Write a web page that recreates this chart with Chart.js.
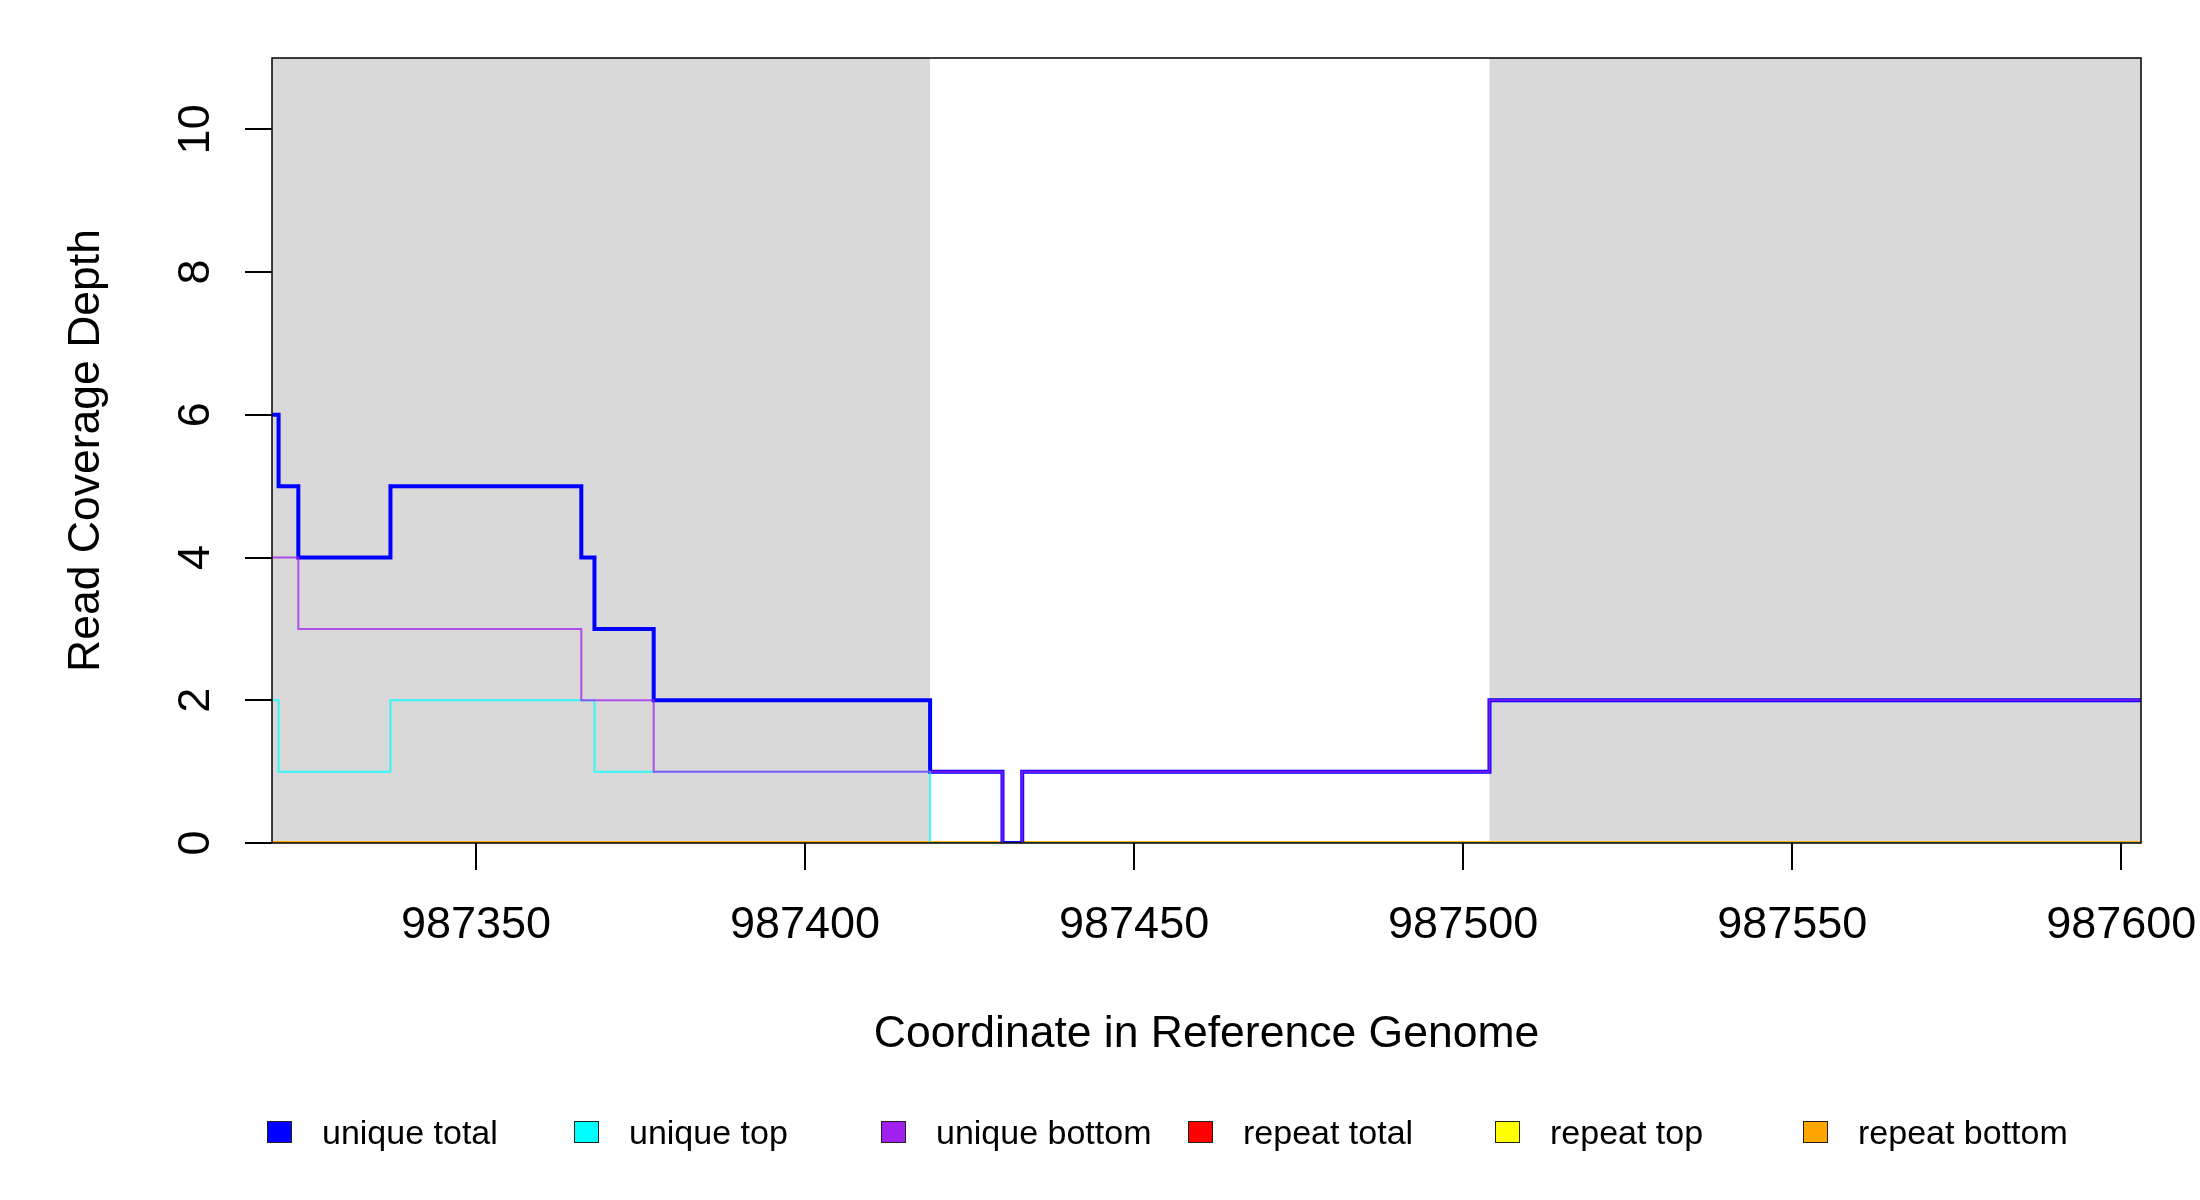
<!DOCTYPE html>
<html>
<head>
<meta charset="utf-8">
<script src="https://cdn.jsdelivr.net/npm/chart.js@4"></script>
<style>
  html, body { margin: 0; padding: 0; background: #ffffff; }
  #wrap { position: relative; width: 2200px; height: 1200px; background: #ffffff; }
  #chart { position: absolute; left: 0; top: 0; }
  .leg { position: absolute; top: 1115px; height: 34px; font-family: "Liberation Sans", Arial, sans-serif; font-size: 34px; color: #000; white-space: nowrap; }
  .sw { position: absolute; left: 0; top: 6px; width: 23px; height: 20px; border: 1.5px solid #222; }
  .lt { position: absolute; left: 55px; top: 0px; line-height: 34px; }
</style>
</head>
<body>
<div id="wrap">
  <canvas id="chart" width="2200" height="1200"></canvas>
  <div id="legend"></div>
</div>
<script>
// ---- data ----
const xMin = 987319;
const xMax = 987603;
const xTickStep = 50;
const yMin = 0;
const yMax = 11;
const yTickStep = 2;

// step breakpoints (value holds from this coordinate to the next one)
const uniqueTotalX = [987319, 987320, 987323, 987337, 987366, 987368, 987377, 987419, 987430, 987433, 987504, 987603];
const uniqueTotalY = [6, 5, 4, 5, 4, 3, 2, 1, 0, 1, 2, 2];

const uniqueTopX = [987319, 987320, 987337, 987368, 987419, 987603];
const uniqueTopY = [2, 1, 2, 1, 0, 0];

const uniqueBottomX = [987319, 987323, 987366, 987377, 987430, 987433, 987504, 987603];
const uniqueBottomY = [4, 3, 2, 1, 0, 1, 2, 2];

const repeatTotalX = [987319, 987603];
const repeatTotalY = [0, 0];
const repeatTopX = [987319, 987603];
const repeatTopY = [0, 0];
const repeatBottomX = [987319, 987603];
const repeatBottomY = [0, 0];

// shaded (gray) coordinate intervals
const shadeStart = [987319, 987504];
const shadeEnd = [987419, 987603];

const seriesNames = ["unique total", "unique top", "unique bottom", "repeat total", "repeat top", "repeat bottom"];
const seriesColors = ["#0000FF", "#00FFFF", "#A020F0", "#FF0000", "#FFFF00", "#FFA500"];

const xTitle = "Coordinate in Reference Genome";
const yTitle = "Read Coverage Depth";

// ---- helpers ----
function pts(xs, ys) { return xs.map((x, i) => ({ x: x, y: ys[i] })); }
function rgba(hex, a) {
  const n = parseInt(hex.slice(1), 16);
  return `rgba(${(n >> 16) & 255},${(n >> 8) & 255},${n & 255},${a})`;
}

const FONT = '"Liberation Sans", Arial, sans-serif';
const FS = 45;
Chart.defaults.font.family = FONT;
Chart.defaults.color = '#000';

const seriesData = [
  pts(uniqueTotalX, uniqueTotalY),
  pts(uniqueTopX, uniqueTopY),
  pts(uniqueBottomX, uniqueBottomY),
  pts(repeatTotalX, repeatTotalY),
  pts(repeatTopX, repeatTopY),
  pts(repeatBottomX, repeatBottomY)
];
const widths = [4, 2, 2, 4, 4, 4];
const alphas = [1, 0.75, 0.75, 0.8, 0.8, 0.9];
const drawOrder = [2, 1, 0, 5, 4, 3]; // lower = on top

const datasets = seriesNames.map((name, i) => ({
  label: name,
  data: seriesData[i],
  borderColor: rgba(seriesColors[i], alphas[i]),
  backgroundColor: seriesColors[i],
  borderWidth: widths[i],
  stepped: 'before',
  pointRadius: 0,
  fill: false,
  tension: 0,
  order: drawOrder[i]
}));

const shadePlugin = {
  id: 'shade',
  beforeDatasetsDraw(chart) {
    const { ctx, chartArea, scales } = chart;
    ctx.save();
    ctx.fillStyle = '#D9D9D9';
    for (let i = 0; i < shadeStart.length; i++) {
      const a = scales.x.getPixelForValue(shadeStart[i]);
      const b = scales.x.getPixelForValue(shadeEnd[i]);
      ctx.fillRect(a, chartArea.top, b - a, chartArea.bottom - chartArea.top);
    }
    ctx.restore();
  },
  afterDraw(chart) {
    const { ctx, chartArea, scales } = chart;
    ctx.save();
    // plot box
    ctx.strokeStyle = '#000';
    ctx.lineWidth = 1.5;
    ctx.strokeRect(chartArea.left, chartArea.top, chartArea.right - chartArea.left, chartArea.bottom - chartArea.top);
    // rotated y tick labels
    ctx.fillStyle = '#000';
    ctx.font = FS + 'px ' + FONT;
    ctx.textAlign = 'center';
    ctx.textBaseline = 'alphabetic';
    scales.y.ticks.forEach(t => {
      const y = scales.y.getPixelForValue(t.value);
      ctx.save();
      ctx.translate(chartArea.left - 63, y);
      ctx.rotate(-Math.PI / 2);
      ctx.fillText(String(t.value), 0, 0);
      ctx.restore();
    });
    ctx.restore();
  }
};

new Chart(document.getElementById('chart'), {
  type: 'line',
  data: { datasets: datasets },
  plugins: [shadePlugin],
  options: {
    responsive: false,
    animation: false,
    devicePixelRatio: 1,
    layout: { padding: { left: 0, top: 58, right: 59, bottom: 0 } },
    plugins: { legend: { display: false }, tooltip: { enabled: false } },
    scales: {
      x: {
        type: 'linear',
        min: xMin,
        max: xMax,
        afterFit(s) { s.height = 357; s.paddingLeft = 0; s.paddingRight = 0; },
        border: { display: false },
        grid: { drawOnChartArea: false, drawTicks: true, tickLength: 27, color: '#000', lineWidth: 2 },
        ticks: {
          stepSize: xTickStep,
          includeBounds: false,
          autoSkip: false,
          maxRotation: 0,
          minRotation: 0,
          padding: 29,
          color: '#000',
          font: { size: FS, family: FONT },
          callback: v => String(v)
        },
        title: {
          display: true,
          text: xTitle,
          color: '#000',
          font: { size: 44.5, family: FONT },
          padding: { top: 0, bottom: 139 }
        }
      },
      y: {
        type: 'linear',
        min: yMin,
        max: yMax,
        afterFit(s) { s.width = 272; s.paddingTop = 0; s.paddingBottom = 0; },
        border: { display: false },
        grid: { drawOnChartArea: false, drawTicks: true, tickLength: 27, color: '#000', lineWidth: 2 },
        ticks: { stepSize: yTickStep, includeBounds: false, display: false },
        title: {
          display: true,
          text: yTitle,
          color: '#000',
          font: { size: 44.5, family: FONT },
          padding: { top: 60, bottom: 0 }
        }
      }
    }
  }
});

// legend (HTML)
const legendLeft = [267, 574, 881, 1188, 1495, 1803];
const legendEl = document.getElementById('legend');
seriesNames.forEach((name, i) => {
  const d = document.createElement('div');
  d.className = 'leg';
  d.style.left = legendLeft[i] + 'px';
  d.innerHTML = `<span class="sw" style="background:${seriesColors[i]}"></span><span class="lt">${name}</span>`;
  legendEl.appendChild(d);
});
</script>
</body>
</html>
